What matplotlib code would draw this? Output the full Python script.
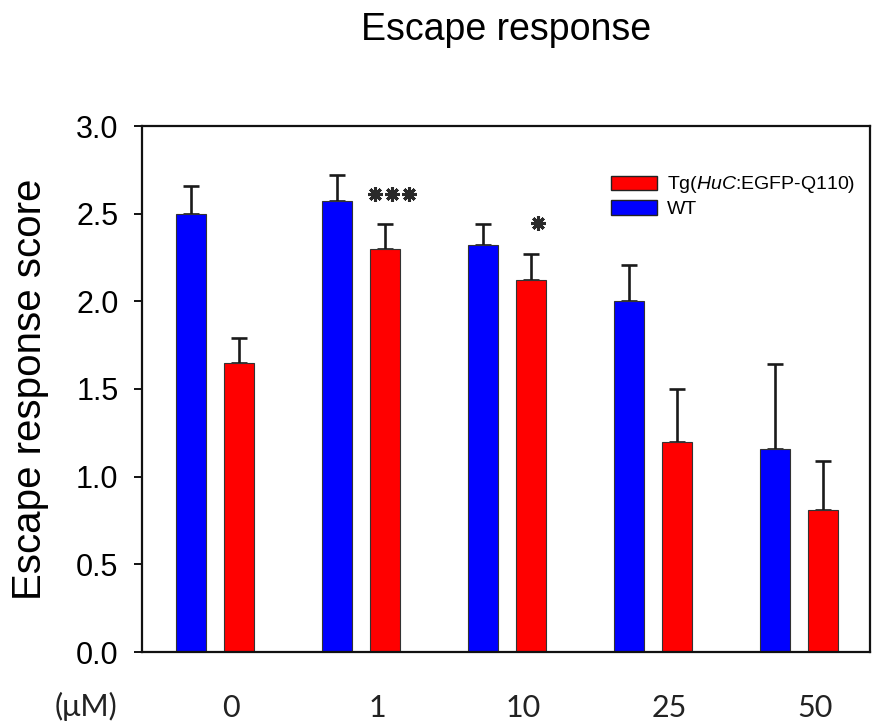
import numpy as np
import matplotlib
matplotlib.use("Agg")
import matplotlib.pyplot as plt
from matplotlib.patches import Patch
import matplotlib.transforms as mtransforms

plt.rcParams['font.family'] = ['Liberation Sans', 'DejaVu Sans']
plt.rcParams['mathtext.fontset'] = 'custom'
plt.rcParams['mathtext.it'] = 'Liberation Sans:italic'
plt.rcParams['mathtext.rm'] = 'Liberation Sans'

# ---- data ----
doses = ['0', '1', '10', '25', '50']
wt_mean = [2.50, 2.57, 2.32, 2.00, 1.16]
wt_err = [0.16, 0.15, 0.12, 0.21, 0.48]
tg_mean = [1.65, 2.30, 2.12, 1.20, 0.81]
tg_err = [0.14, 0.14, 0.15, 0.30, 0.28]
tg_signif = ['', '***', '*', '', '']
series_labels = ['WT', 'Tg($\\it{HuC}$:EGFP-Q110)']
title = 'Escape response'
ylabel = 'Escape response score'
unit_label = '(μM)'

fig = plt.figure(figsize=(8.72, 7.24), dpi=100)
ax = fig.add_axes([142/872, 1-652/724, (870-142)/872, (652-126)/724])

x = np.arange(len(doses))
w = 0.205
off = 0.164
ekw = dict(ecolor='#1a1a1a', elinewidth=1.9, capsize=5.8, capthick=1.9)

ax.bar(x - off, wt_mean, w, color='#0000ff', edgecolor='#333333', linewidth=0.8, zorder=2)
ax.errorbar(x - off, wt_mean, yerr=[np.zeros(len(x)), wt_err], fmt='none', zorder=1, **ekw)
ax.bar(x + off, tg_mean, w, color='#ff0000', edgecolor='#333333', linewidth=0.8, zorder=2)
ax.errorbar(x + off, tg_mean, yerr=[np.zeros(len(x)), tg_err], fmt='none', zorder=1, **ekw)

# significance stars
for i, s in enumerate(tg_signif):
    if not s:
        continue
    n = len(s)
    top = tg_mean[i] + tg_err[i]
    for k in range(n):
        dx_pt = (k - (n - 1) / 2) * 12.3 + 5
        tr = mtransforms.offset_copy(ax.transData, fig=fig, x=dx_pt, y=22, units='points')
        ax.plot([x[i] + off], [top], marker=(8, 2, 0), markersize=10.5, mew=2.2,
                color='#2a2a2a', transform=tr, clip_on=False)

ax.set_xlim(-0.5, 4.486)
ax.set_ylim(0, 3.0)
ax.set_yticks(np.arange(0, 3.01, 0.5))
ax.set_yticklabels([f'{v:.1f}' for v in np.arange(0, 3.01, 0.5)], fontsize=22)
ax.tick_params(axis='y', direction='out', length=6, width=1.3, pad=11)

ax.set_xticks(x + 0.11)
ax.set_xticklabels(doses, fontsize=22, fontfamily='Lato', color='#222222')
ax.tick_params(axis='x', length=0, pad=30)

for sp in ax.spines.values():
    sp.set_linewidth(1.6)
    sp.set_color('#111111')

ax.set_ylabel(ylabel, fontsize=29, labelpad=19)
ax.set_title(title, fontsize=27, pad=62)

fig.text(86/872, 1-706/724, unit_label, fontsize=22, fontfamily='Lato',
         ha='center', va='center', color='#222222')

handles = [Patch(facecolor='#ff0000', edgecolor='#222222', linewidth=1.0),
           Patch(facecolor='#0000ff', edgecolor='#222222', linewidth=1.0)]
leg = ax.legend(handles, [series_labels[1], series_labels[0]], loc='upper right',
                bbox_to_anchor=(0.996, 0.93), frameon=False, fontsize=14,
                handlelength=2.4, handleheight=0.75, handletextpad=0.5,
                labelspacing=0.25, borderaxespad=0.2)

fig.savefig('out.png', dpi=100)
